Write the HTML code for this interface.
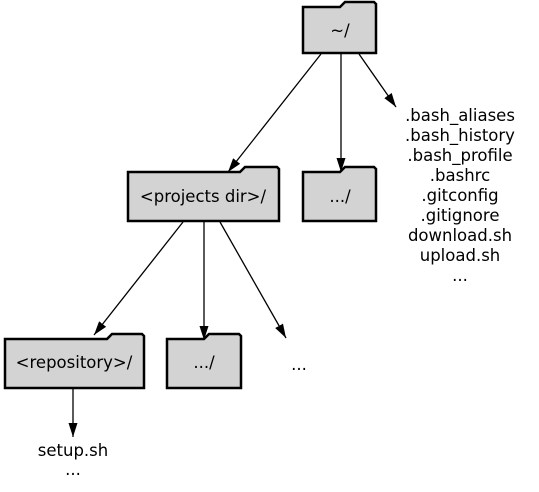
<!DOCTYPE html>
<html><head><style>body{margin:0;background:#fff}svg{display:block}text{font-family:"DejaVu Sans","Liberation Sans",sans-serif;font-size:16.5px}</style></head>
<body>
<svg width="539" height="492" viewBox="0 0 539 492" xmlns="http://www.w3.org/2000/svg">
<defs><marker id="a" viewBox="0 0 14 10" refX="14" refY="5" markerWidth="14" markerHeight="10" markerUnits="userSpaceOnUse" orient="auto"><path d="M0,0.5 L14,5 L0,9.5 z" fill="#000"/></marker></defs>
<g fill="#d3d3d3" stroke="#000" stroke-width="2.5">
<path d="M303,7 L340,7 L345,2 L374,2 L376,4 L376,53 L303,53 Z"/>
<path d="M128,172 L240,172 L245,167 L277,167 L279,169 L279,221 L128,221 Z"/>
<path d="M303,172 L340,172 L345,167 L374,167 L376,169 L376,221 L303,221 Z"/>
<path d="M5,339 L107,339 L112,334 L142,334 L144,336 L144,388 L5,388 Z"/>
<path d="M167,339 L204,339 L209,334 L239,334 L241,336 L241,388 L167,388 Z"/>
</g>
<g stroke="#000" stroke-width="1.3" marker-end="url(#a)">
<line x1="321" y1="54" x2="228" y2="172"/>
<line x1="341" y1="54" x2="341" y2="172"/>
<line x1="359" y1="54" x2="396" y2="107"/>
<line x1="183" y1="222" x2="94" y2="335"/>
<line x1="204" y1="222" x2="204" y2="340"/>
<line x1="220" y1="222" x2="286" y2="338"/>
<line x1="73" y1="389" x2="73" y2="437"/>
</g>
<g text-anchor="middle">
<text x="340" y="36">~/</text>
<text x="203" y="202">&lt;projects dir&gt;/</text>
<text x="340" y="202">.../</text>
<text x="74" y="368">&lt;repository&gt;/</text>
<text x="204" y="368">.../</text>
<text x="299" y="370">...</text>
<text x="73" y="456">setup.sh</text>
<text x="73" y="475">...</text>
<text x="460" y="121">.bash_aliases</text>
<text x="460" y="141">.bash_history</text>
<text x="460" y="161">.bash_profile</text>
<text x="460" y="181">.bashrc</text>
<text x="460" y="201">.gitconfig</text>
<text x="460" y="221">.gitignore</text>
<text x="460" y="241">download.sh</text>
<text x="460" y="261">upload.sh</text>
<text x="460" y="281">...</text>
</g>
</svg>
</body></html>
